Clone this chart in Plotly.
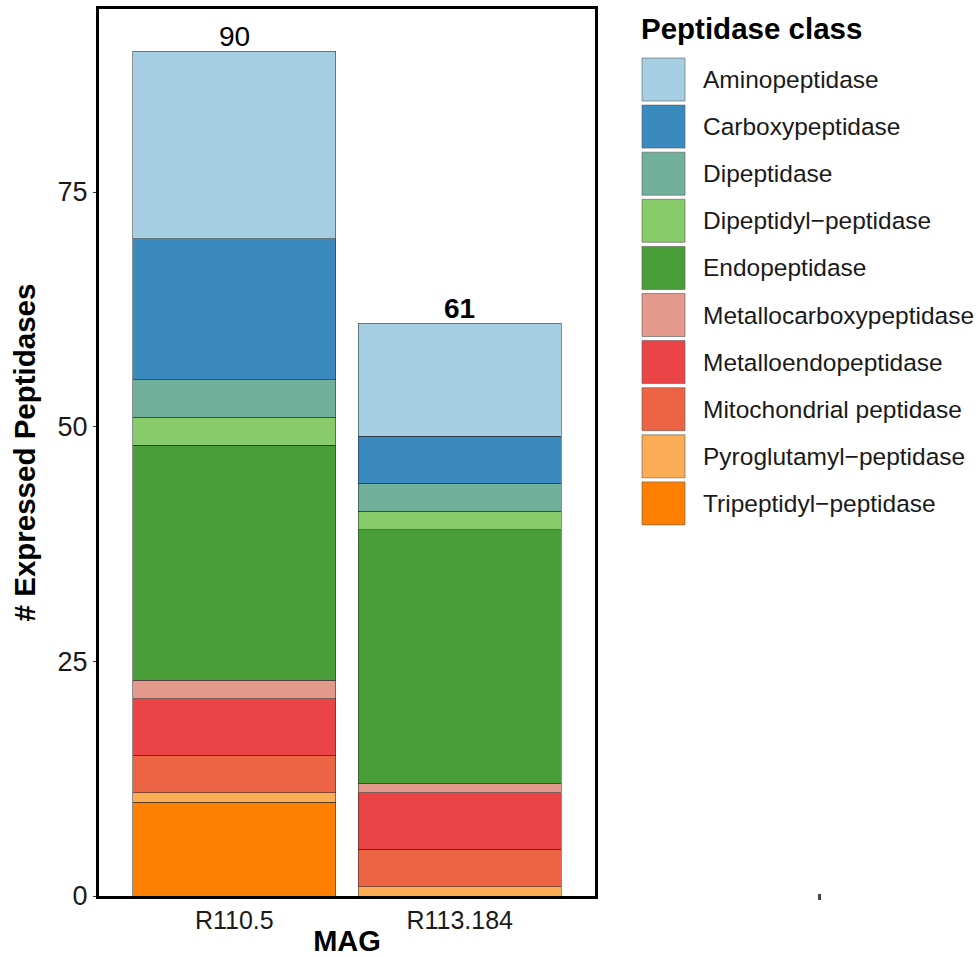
import plotly.graph_objects as go

# ---------------- data ----------------
mags = ["R110.5", "R113.184"]
classes = [
    "Aminopeptidase",
    "Carboxypeptidase",
    "Dipeptidase",
    "Dipeptidyl\u2212peptidase",
    "Endopeptidase",
    "Metallocarboxypeptidase",
    "Metalloendopeptidase",
    "Mitochondrial peptidase",
    "Pyroglutamyl\u2212peptidase",
    "Tripeptidyl\u2212peptidase",
]
counts_R110_5 = [20, 15, 4, 3, 25, 2, 6, 4, 1, 10]
counts_R113_184 = [12, 5, 3, 2, 27, 1, 6, 4, 1, 0]
colors = [
    "#A6CEE3", "#3A89BF", "#71B09B", "#88CB6A", "#4A9E39",
    "#E4998D", "#EA4447", "#EC6443", "#FBAD55", "#FF7F00",
]
y_ticks = [0, 25, 50, 75]
total_label_bold = [False, True]   # style only

FONT = "Liberation Sans, Arial, sans-serif"

# ---------------- figure ----------------
fig = go.Figure()
# stacked from the bottom: last class first
for i in reversed(range(len(classes))):
    fig.add_trace(go.Bar(
        x=mags,
        y=[counts_R110_5[i], counts_R113_184[i]],
        name=classes[i],
        marker=dict(color=colors[i], line=dict(color="rgba(40,40,40,0.75)", width=0.7)),
        width=0.9,
        showlegend=False,
    ))

totals = [sum(counts_R110_5), sum(counts_R113_184)]
for m, t, b in zip(mags, totals, total_label_bold):
    txt = f"<b>{t}</b>" if b else str(t)
    fig.add_annotation(x=m, y=t, text=txt, showarrow=False, yanchor="bottom",
                       yshift=-3, font=dict(family=FONT, size=28, color="black"))

# ---------------- custom legend (ggplot-like) ----------------
W, H = 979, 957
L, R, T, B = 99, 384, 9, 61
pw, ph = W - L - R, H - T - B


def px2x(px):
    return (px - L) / pw


def py2y(py):
    return (H - B - py) / ph


fig.add_annotation(xref="paper", yref="paper", x=px2x(639), y=py2y(29),
                   xanchor="left", yanchor="middle", showarrow=False,
                   text="<b>Peptidase class</b>",
                   font=dict(family=FONT, size=29.5, color="black"))
key0, pitch, ks = 58, 47.1, 43
for i, (c, col) in enumerate(zip(classes, colors)):
    top = key0 + i * pitch
    fig.add_shape(type="rect", xref="paper", yref="paper",
                  x0=px2x(642), x1=px2x(642 + ks), y0=py2y(top + ks), y1=py2y(top),
                  fillcolor=col, line=dict(color="rgba(90,90,90,0.6)", width=1), layer="above")
    fig.add_annotation(xref="paper", yref="paper", x=px2x(701), y=py2y(top + ks / 2),
                       xanchor="left", yanchor="middle", showarrow=False, text=c,
                       font=dict(family=FONT, size=24.5, color="#1a1a1a"))

# stray mark in the original image
fig.add_shape(type="rect", xref="paper", yref="paper",
              x0=px2x(818), x1=px2x(821), y0=py2y(900), y1=py2y(894),
              fillcolor="#444", line=dict(width=0))

fig.update_layout(
    barmode="stack",
    width=W, height=H,
    margin=dict(l=L, r=R, t=T, b=B, autoexpand=False),
    paper_bgcolor="white", plot_bgcolor="white",
    font=dict(family=FONT, color="black"),
    bargap=0.1,
)
fig.update_xaxes(
    type="category", range=[-0.6, 1.6], automargin=False,
    showline=True, linecolor="black", linewidth=3, mirror=True,
    showgrid=False, ticks="", tickfont=dict(family=FONT, size=25, color="#1a1a1a"),
    title=dict(text="<b>MAG</b>", font=dict(family=FONT, size=29, color="black"), standoff=0),
)
fig.update_yaxes(
    range=[0, 94.5], tickvals=y_ticks, automargin=False,
    showline=True, linecolor="black", linewidth=3, mirror=True,
    showgrid=False, zeroline=False, ticks="outside", ticklen=3, tickcolor="#333",
    tickfont=dict(family=FONT, size=27, color="#1a1a1a"),
    title=dict(text="<b># Expressed Peptidases</b>", font=dict(family=FONT, size=29.5, color="black"), standoff=14),
)

fig.write_html("out.html", config={"displayModeBar": False},
               post_script="document.body.style.margin='0';document.body.style.overflow='hidden';")
